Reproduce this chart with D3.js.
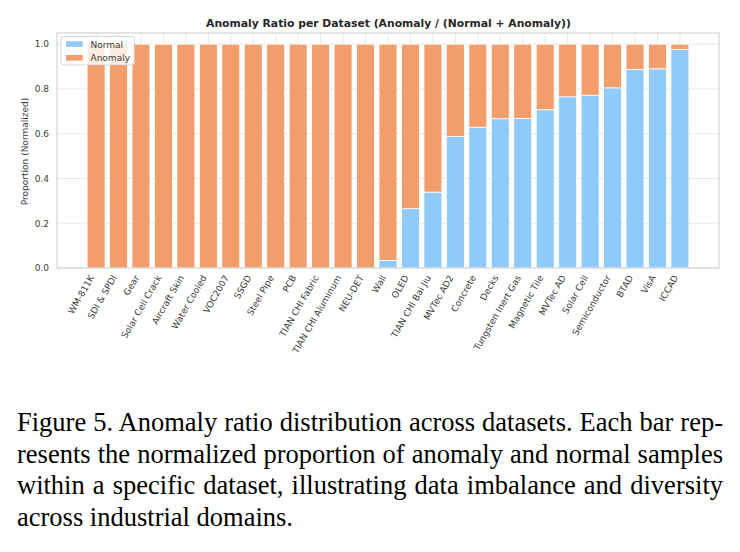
<!DOCTYPE html>
<html>
<head>
<meta charset="utf-8">
<script src="https://cdn.jsdelivr.net/npm/d3@7/dist/d3.min.js"></script>
<style>
  body { margin: 0; background: white; }
  svg { display: block; }
</style>
</head>
<body>
<svg id="mainSvg" width="740" height="552"></svg>
<script>
// dataset names, left to right
var datasets = ["WM-811K", "SDI & SPDI", "Gear", "Solar Cell Crack", "Aircraft Skin", "Water Cooled",
    "VOC2007", "SSGD", "Steel Pipe", "PCB", "TIAN CHI Fabric", "TIAN CHI Aluminum", "NEU-DET", "Wall",
    "OLED", "TIAN CHI Bai Jiu", "MVTec AD2", "Concrete", "Decks", "Tungsten Inert Gas", "Magnetic Tile",
    "MVTec AD", "Solar Cell", "Semiconductor", "BTAD", "VisA", "ICCAD"];
// normal share per dataset (anomaly = 1 - normal)
var normalRatio = [0, 0, 0, 0, 0, 0, 0, 0, 0, 0, 0, 0, 0, 0.034,
    0.265, 0.339, 0.588, 0.629, 0.667, 0.668, 0.707, 0.765, 0.772, 0.805, 0.887, 0.890, 0.976];
var yTicks = [0, 0.2, 0.4, 0.6, 0.8, 1.0];
var seriesNames = ["Normal", "Anomaly"];

var normalColor = "#90caf9";
var anomalyColor = "#f29e6c";
var gridColor = "#e6e6e6";
var frameColor = "#d4d4d4";
var textColor = "#3a3a3a";

var captionLines = [
    "Figure 5. Anomaly ratio distribution across datasets. Each bar rep-",
    "resents the normalized proportion of anomaly and normal samples",
    "within a specific dataset, illustrating data imbalance and diversity",
    "across industrial domains."
];

window.addEventListener("load", drawChart);

function drawChart()
{
    const svg = d3.select("#mainSvg");
    const plot = {left: 57, right: 719, top: 33, bottom: 268};
    const n = datasets.length;
    const small = 9;   // tick / label font size

    // matplotlib style: bars of width 0.8 on integer positions, 5% margin
    const xScale = d3.scaleLinear()
        .domain([-0.4 - 0.05 * (n - 0.2), n - 0.6 + 0.05 * (n - 0.2)])
        .range([plot.left, plot.right]);
    const yScale = d3.scaleLinear().domain([0, 1.05]).range([plot.bottom, plot.top]);
    const barW = xScale(0.8) - xScale(0);

    const font = "'DejaVu Sans', sans-serif";

    // grid
    const grid = svg.append("g");
    grid.selectAll("line.h").data(yTicks).join("line")
        .attr("x1", plot.left).attr("x2", plot.right)
        .attr("y1", d => yScale(d)).attr("y2", d => yScale(d))
        .attr("stroke", gridColor).attr("stroke-width", 1);
    grid.selectAll("line.v").data(datasets).join("line")
        .attr("x1", (d, i) => xScale(i)).attr("x2", (d, i) => xScale(i))
        .attr("y1", plot.top).attr("y2", plot.bottom)
        .attr("stroke", gridColor).attr("stroke-width", 1);

    // bars
    const bars = svg.append("g");
    const rows = datasets.map((d, i) => ({name: d, i: i, normal: normalRatio[i], anomaly: 1 - normalRatio[i]}));
    bars.selectAll("rect.normal").data(rows.filter(r => r.normal > 0)).join("rect")
        .attr("x", d => xScale(d.i - 0.4))
        .attr("width", barW)
        .attr("y", d => yScale(d.normal))
        .attr("height", d => yScale(0) - yScale(d.normal))
        .attr("fill", normalColor)
        .attr("stroke", "white").attr("stroke-width", 0.8);
    bars.selectAll("rect.anomaly").data(rows).join("rect")
        .attr("x", d => xScale(d.i - 0.4))
        .attr("width", barW)
        .attr("y", d => yScale(d.normal + d.anomaly))
        .attr("height", d => yScale(d.normal) - yScale(d.normal + d.anomaly))
        .attr("fill", anomalyColor)
        .attr("stroke", "white").attr("stroke-width", 0.8);

    // frame
    svg.append("rect")
        .attr("x", plot.left).attr("y", plot.top)
        .attr("width", plot.right - plot.left).attr("height", plot.bottom - plot.top)
        .attr("fill", "none").attr("stroke", frameColor).attr("stroke-width", 1.2);

    // y ticks
    svg.append("g").selectAll("text").data(yTicks).join("text")
        .attr("x", 49).attr("y", d => yScale(d) + 3.3)
        .attr("text-anchor", "end")
        .attr("font-family", font).attr("font-size", small)
        .attr("fill", textColor)
        .text(d => d.toFixed(1));

    // x tick labels rotated 60
    svg.append("g").selectAll("text").data(datasets).join("text")
        .attr("transform", (d, i) => `translate(${xScale(i) - 1.5}, ${277.5}) rotate(-60)`)
        .attr("text-anchor", "end")
        .attr("font-family", font).attr("font-size", small)
        .attr("fill", textColor)
        .text(d => d);

    // y axis label
    svg.append("text")
        .attr("transform", `translate(27.5, ${151.5}) rotate(-90)`)
        .attr("text-anchor", "middle")
        .attr("font-family", font).attr("font-size", small)
        .attr("fill", textColor)
        .text("Proportion (Normalized)");

    // title
    svg.append("text")
        .attr("x", (plot.left + plot.right) / 2 + 0.5).attr("y", 26.8)
        .attr("text-anchor", "middle")
        .attr("font-family", font).attr("font-size", 10.8).attr("font-weight", "bold")
        .attr("fill", "#262626")
        .text("Anomaly Ratio per Dataset (Anomaly / (Normal + Anomaly))");

    // legend
    const legend = svg.append("g");
    legend.append("rect")
        .attr("x", 61).attr("y", 36.5).attr("width", 73.5).attr("height", 28.5)
        .attr("rx", 2.5)
        .attr("fill", "white").attr("fill-opacity", 0.8)
        .attr("stroke", "#cccccc").attr("stroke-width", 0.8);
    const legendColors = [normalColor, anomalyColor];
    legend.selectAll("rect.sw").data(seriesNames).join("rect")
        .attr("x", 66).attr("y", (d, i) => 41.3 + i * 13.7)
        .attr("width", 16.7).attr("height", 5.6)
        .attr("fill", (d, i) => legendColors[i]);
    legend.selectAll("text").data(seriesNames).join("text")
        .attr("x", 90.5).attr("y", (d, i) => 47.5 + i * 13.7)
        .attr("font-family", font).attr("font-size", small)
        .attr("fill", textColor)
        .text(d => d);

    // caption, justified like the paper
    const capLeft = 17, capRight = 723;
    const cap = svg.append("g");
    captionLines.forEach((line, k) => {
        const t = cap.append("text")
            .attr("x", capLeft).attr("y", 431 + k * 31.5)
            .attr("font-family", "'Liberation Serif', 'Times New Roman', serif")
            .attr("font-size", 26.5)
            .attr("fill", "black")
            .text(line);
        if (k < captionLines.length - 1) {
            const len = t.node().getComputedTextLength();
            const spaces = line.split(" ").length - 1;
            t.attr("word-spacing", (capRight - capLeft - len) / spaces);
        }
    });
}
</script>
</body>
</html>
